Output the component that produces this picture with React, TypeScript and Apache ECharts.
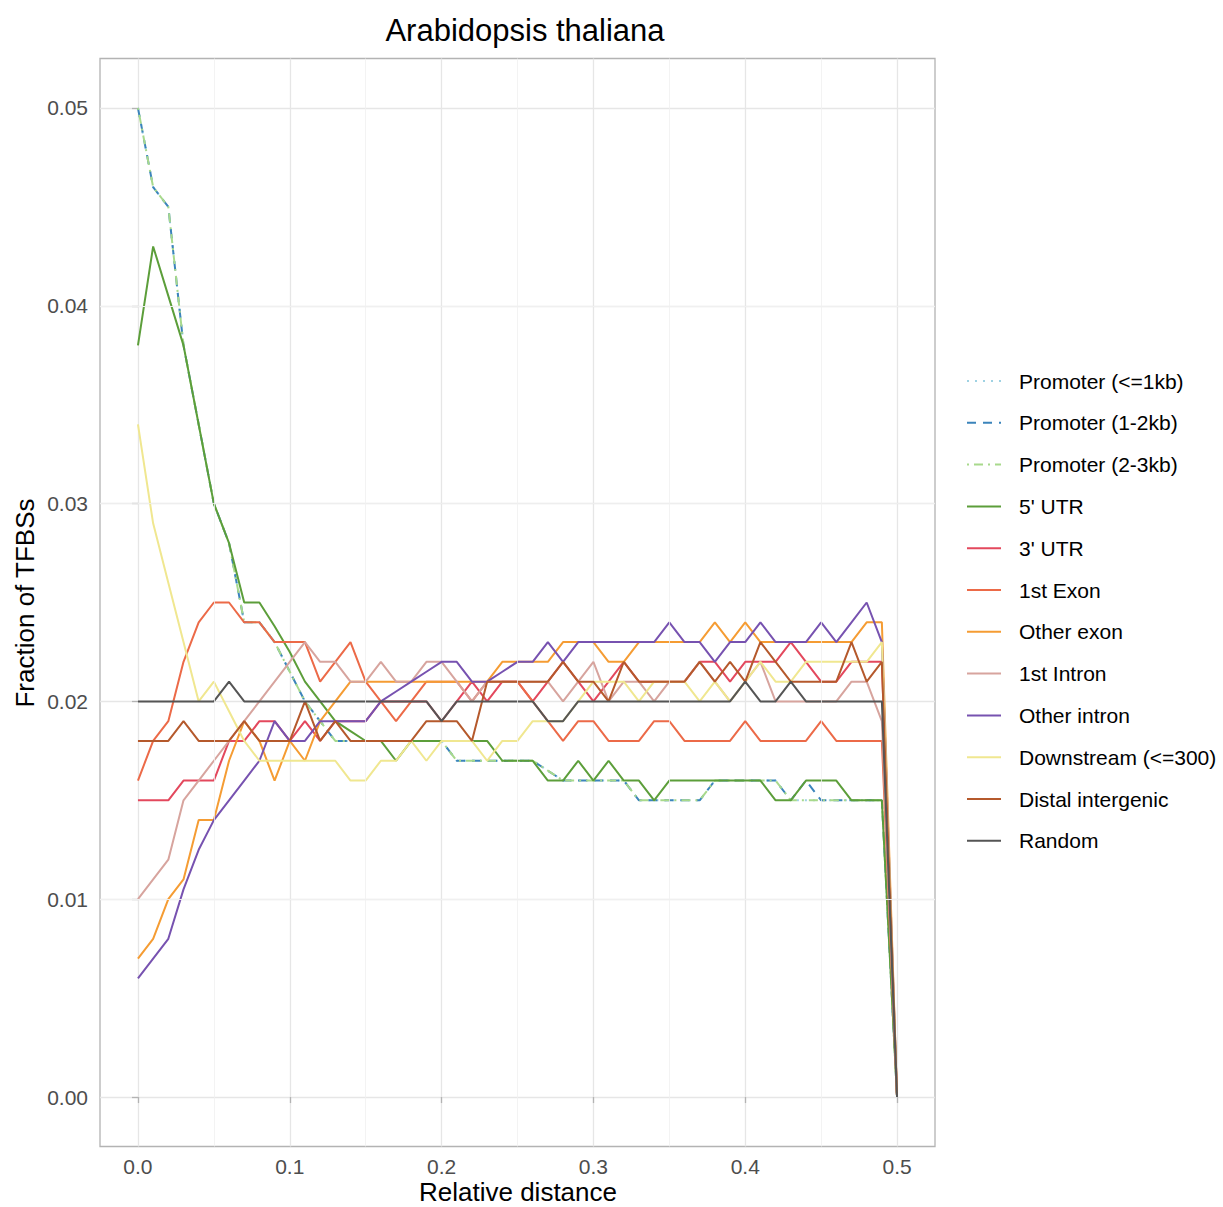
import React, { useEffect, useRef } from "react";
import * as echarts from "echarts";

// Relative distance bins (x values)
const relativeDistance = [
  0.0, 0.01, 0.02, 0.03, 0.04, 0.05, 0.06, 0.07, 0.08, 0.09,
  0.1, 0.11, 0.12, 0.13, 0.14, 0.15, 0.16, 0.17, 0.18, 0.19,
  0.2, 0.21, 0.22, 0.23, 0.24, 0.25, 0.26, 0.27, 0.28, 0.29,
  0.3, 0.31, 0.32, 0.33, 0.34, 0.35, 0.36, 0.37, 0.38, 0.39,
  0.4, 0.41, 0.42, 0.43, 0.44, 0.45, 0.46, 0.47, 0.48, 0.49,
  0.5,
];

const promoter1kb = [
  0.050, 0.046, 0.045, 0.038, 0.034, 0.030, 0.028, 0.024, 0.024, 0.023,
  0.0215, 0.020, 0.019, 0.018, 0.018, 0.018, 0.018, 0.018, 0.018, 0.018,
  0.018, 0.017, 0.017, 0.017, 0.017, 0.017, 0.017, 0.0165, 0.016, 0.016,
  0.016, 0.016, 0.016, 0.015, 0.015, 0.015, 0.015, 0.015, 0.016, 0.016,
  0.016, 0.016, 0.016, 0.015, 0.015, 0.015, 0.015, 0.015, 0.015, 0.015,
  0.0,
];

const promoter2kb = [
  0.050, 0.046, 0.045, 0.038, 0.034, 0.030, 0.028, 0.024, 0.024, 0.023,
  0.0215, 0.020, 0.019, 0.018, 0.018, 0.018, 0.018, 0.018, 0.018, 0.018,
  0.018, 0.017, 0.017, 0.017, 0.017, 0.017, 0.017, 0.0165, 0.016, 0.016,
  0.016, 0.016, 0.016, 0.015, 0.015, 0.015, 0.015, 0.015, 0.016, 0.016,
  0.016, 0.016, 0.016, 0.015, 0.016, 0.015, 0.015, 0.015, 0.015, 0.015,
  0.0,
];

const promoter3kb = [
  0.050, 0.046, 0.045, 0.038, 0.034, 0.030, 0.028, 0.024, 0.024, 0.023,
  0.0215, 0.020, 0.019, 0.018, 0.018, 0.018, 0.018, 0.018, 0.018, 0.018,
  0.018, 0.017, 0.017, 0.017, 0.017, 0.017, 0.017, 0.0165, 0.016, 0.016,
  0.016, 0.016, 0.016, 0.015, 0.015, 0.015, 0.015, 0.015, 0.016, 0.016,
  0.016, 0.016, 0.016, 0.015, 0.015, 0.015, 0.015, 0.015, 0.015, 0.015,
  0.0,
];

const utr5 = [
  0.038, 0.043, 0.0405, 0.038, 0.034, 0.030, 0.028, 0.025, 0.025, 0.0238,
  0.0225, 0.021, 0.020, 0.019, 0.0185, 0.018, 0.018, 0.017, 0.018, 0.018,
  0.018, 0.018, 0.018, 0.018, 0.017, 0.017, 0.017, 0.016, 0.016, 0.017,
  0.016, 0.017, 0.016, 0.016, 0.015, 0.016, 0.016, 0.016, 0.016, 0.016,
  0.016, 0.016, 0.015, 0.015, 0.016, 0.016, 0.016, 0.015, 0.015, 0.015,
  0.0,
];

const utr3 = [
  0.015, 0.015, 0.015, 0.016, 0.016, 0.016, 0.018, 0.018, 0.019, 0.019,
  0.018, 0.019, 0.018, 0.019, 0.019, 0.019, 0.020, 0.020, 0.020, 0.020,
  0.019, 0.020, 0.021, 0.020, 0.021, 0.021, 0.020, 0.021, 0.022, 0.021,
  0.020, 0.021, 0.022, 0.021, 0.021, 0.021, 0.021, 0.022, 0.022, 0.021,
  0.022, 0.022, 0.022, 0.023, 0.022, 0.021, 0.021, 0.022, 0.022, 0.022,
  0.0,
];

const exon1 = [
  0.016, 0.018, 0.019, 0.022, 0.024, 0.025, 0.025, 0.024, 0.024, 0.023,
  0.023, 0.023, 0.021, 0.022, 0.023, 0.021, 0.020, 0.019, 0.020, 0.021,
  0.021, 0.021, 0.020, 0.021, 0.021, 0.021, 0.020, 0.019, 0.018, 0.019,
  0.019, 0.018, 0.018, 0.018, 0.019, 0.019, 0.018, 0.018, 0.018, 0.018,
  0.019, 0.018, 0.018, 0.018, 0.018, 0.019, 0.018, 0.018, 0.018, 0.018,
  0.0,
];

const otherExon = [
  0.007, 0.008, 0.010, 0.011, 0.014, 0.014, 0.017, 0.019, 0.018, 0.016,
  0.018, 0.017, 0.019, 0.020, 0.021, 0.021, 0.021, 0.021, 0.021, 0.021,
  0.021, 0.021, 0.021, 0.021, 0.022, 0.022, 0.022, 0.022, 0.023, 0.023,
  0.023, 0.022, 0.022, 0.023, 0.023, 0.023, 0.023, 0.023, 0.024, 0.023,
  0.024, 0.023, 0.023, 0.023, 0.023, 0.023, 0.023, 0.023, 0.024, 0.024,
  0.0,
];

const intron1 = [
  0.010, 0.011, 0.012, 0.015, 0.016, 0.017, 0.018, 0.019, 0.020, 0.021,
  0.022, 0.023, 0.022, 0.022, 0.021, 0.021, 0.022, 0.021, 0.021, 0.022,
  0.022, 0.021, 0.020, 0.021, 0.021, 0.021, 0.021, 0.021, 0.020, 0.021,
  0.022, 0.020, 0.021, 0.021, 0.020, 0.021, 0.021, 0.022, 0.021, 0.020,
  0.021, 0.022, 0.020, 0.020, 0.020, 0.020, 0.020, 0.021, 0.021, 0.019,
  0.0,
];

const otherIntron = [
  0.006, 0.007, 0.008, 0.0105, 0.0125, 0.014, 0.015, 0.016, 0.017, 0.019,
  0.018, 0.018, 0.019, 0.019, 0.019, 0.019, 0.020, 0.0205, 0.021, 0.0215,
  0.022, 0.022, 0.021, 0.021, 0.0215, 0.022, 0.022, 0.023, 0.022, 0.023,
  0.023, 0.023, 0.023, 0.023, 0.023, 0.024, 0.023, 0.023, 0.022, 0.023,
  0.023, 0.024, 0.023, 0.023, 0.023, 0.024, 0.023, 0.024, 0.025, 0.023,
  0.0,
];

const downstream = [
  0.034, 0.029, 0.026, 0.023, 0.020, 0.021, 0.0195, 0.018, 0.017, 0.017,
  0.017, 0.017, 0.017, 0.017, 0.016, 0.016, 0.017, 0.017, 0.018, 0.017,
  0.018, 0.018, 0.018, 0.017, 0.018, 0.018, 0.019, 0.019, 0.019, 0.020,
  0.021, 0.021, 0.021, 0.020, 0.021, 0.021, 0.021, 0.020, 0.021, 0.020,
  0.021, 0.022, 0.021, 0.021, 0.022, 0.022, 0.022, 0.022, 0.022, 0.023,
  0.0,
];

const distal = [
  0.018, 0.018, 0.018, 0.019, 0.018, 0.018, 0.018, 0.019, 0.018, 0.018,
  0.018, 0.020, 0.018, 0.019, 0.018, 0.018, 0.018, 0.018, 0.018, 0.019,
  0.019, 0.019, 0.018, 0.021, 0.021, 0.021, 0.021, 0.021, 0.022, 0.021,
  0.021, 0.020, 0.022, 0.021, 0.021, 0.021, 0.021, 0.022, 0.021, 0.022,
  0.021, 0.023, 0.022, 0.021, 0.021, 0.021, 0.021, 0.023, 0.021, 0.022,
  0.0,
];

const randomSites = [
  0.020, 0.020, 0.020, 0.020, 0.020, 0.020, 0.021, 0.020, 0.020, 0.020,
  0.020, 0.020, 0.020, 0.020, 0.020, 0.020, 0.020, 0.020, 0.020, 0.020,
  0.019, 0.020, 0.020, 0.020, 0.020, 0.020, 0.020, 0.019, 0.019, 0.020,
  0.020, 0.020, 0.020, 0.020, 0.020, 0.020, 0.020, 0.020, 0.020, 0.020,
  0.021, 0.020, 0.020, 0.021, 0.020, 0.020, 0.020, 0.020, 0.020, 0.020,
  0.0,
];

const xTicks = [0.0, 0.1, 0.2, 0.3, 0.4, 0.5];
const xMinor = [0.05, 0.15, 0.25, 0.35, 0.45];
const yTicks = [0.0, 0.01, 0.02, 0.03, 0.04, 0.05];
const yMinor = [0.005, 0.015, 0.025, 0.035, 0.045];

const FONT = "'Liberation Sans', Arial, Helvetica, sans-serif";

type SeriesDef = {
  name: string;
  values: number[];
  color: string;
  dash: "solid" | number[];
};

const seriesDefs: SeriesDef[] = [
  { name: "Promoter (<=1kb)", values: promoter1kb, color: "#9fd2e3", dash: [2, 6] },
  { name: "Promoter (1-2kb)", values: promoter2kb, color: "#3b84bb", dash: [9, 7] },
  { name: "Promoter (2-3kb)", values: promoter3kb, color: "#a8d98c", dash: [2, 5, 9, 5] },
  { name: "5' UTR", values: utr5, color: "#5c9e3a", dash: "solid" },
  { name: "3' UTR", values: utr3, color: "#e3485d", dash: "solid" },
  { name: "1st Exon", values: exon1, color: "#ec6a48", dash: "solid" },
  { name: "Other exon", values: otherExon, color: "#f59c33", dash: "solid" },
  { name: "1st Intron", values: intron1, color: "#d7a49e", dash: "solid" },
  { name: "Other intron", values: otherIntron, color: "#7752b0", dash: "solid" },
  { name: "Downstream (<=300)", values: downstream, color: "#f0e790", dash: "solid" },
  { name: "Distal intergenic", values: distal, color: "#b5592c", dash: "solid" },
  { name: "Random", values: randomSites, color: "#555555", dash: "solid" },
];

export default function App() {
  const ref = useRef<HTMLDivElement>(null);

  useEffect(() => {
    if (!ref.current) return;
    const chart = echarts.init(ref.current, undefined, { renderer: "svg" });

    // Minor grid lines at the half-steps of both axes
    const minorLines = {
      name: "__grid_minor",
      type: "line",
      data: [],
      z: 1,
      silent: true,
      markLine: {
        silent: true,
        symbol: ["none", "none"],
        label: { show: false },
        animation: false,
        lineStyle: { color: "#f0f0f0", width: 0.8, type: "solid" },
        data: [
          ...xMinor.map((v) => ({ xAxis: v })),
          ...yMinor.map((v) => ({ yAxis: v })),
        ],
      },
    };

    const lines = seriesDefs.map((s) => ({
      name: s.name,
      type: "line",
      data: relativeDistance.map((x, i) => [x, s.values[i]]),
      symbol: "none",
      showSymbol: false,
      z: 3,
      lineStyle: { color: s.color, width: 2, type: s.dash },
      itemStyle: { color: s.color },
      emphasis: { disabled: true },
    }));

    chart.setOption({
      animation: false,
      backgroundColor: "#ffffff",
      grid: {
        left: 100,
        top: 58.5,
        width: 835,
        height: 1088,
        show: true,
        borderColor: "#b3b3b3",
        borderWidth: 1.3,
        backgroundColor: "transparent",
      },
      xAxis: {
        type: "value",
        min: -0.025,
        max: 0.525,
        axisLine: { show: false },
        axisTick: {
          show: true,
          customValues: xTicks,
          length: 6,
          lineStyle: { color: "#b3b3b3", width: 1.3 },
        },
        axisLabel: {
          customValues: xTicks,
          formatter: (v: number) => v.toFixed(1),
          color: "#4d4d4d",
          fontSize: 21,
          fontFamily: FONT,
          margin: 9,
        },
        splitLine: { show: true, lineStyle: { color: "#e6e6e6", width: 1.3 } },
      },
      yAxis: {
        type: "value",
        min: -0.0025,
        max: 0.0525,
        axisLine: { show: false },
        axisTick: {
          show: true,
          customValues: yTicks,
          length: 6,
          lineStyle: { color: "#b3b3b3", width: 1.3 },
        },
        axisLabel: {
          customValues: yTicks,
          formatter: (v: number) => v.toFixed(2),
          color: "#4d4d4d",
          fontSize: 21,
          fontFamily: FONT,
          margin: 12,
        },
        splitLine: { show: true, lineStyle: { color: "#e6e6e6", width: 1.3 } },
      },
      legend: {
        orient: "vertical",
        left: 966,
        top: 370,
        padding: 0,
        itemWidth: 34,
        itemHeight: 22,
        itemGap: 19.8,
        data: seriesDefs.map((s) => s.name),
        selectedMode: false,
        itemStyle: { opacity: 0 },
        textStyle: {
          color: "#000000",
          fontSize: 21,
          fontFamily: FONT,
          lineHeight: 22,
          padding: [0, 0, 0, 13],
        },
      },
      graphic: [
        {
          type: "text",
          x: 525,
          y: 30,
          style: {
            text: "Arabidopsis thaliana",
            font: `31px ${FONT}`,
            fill: "#000000",
            align: "center",
            verticalAlign: "middle",
            textAlign: "center",
            textVerticalAlign: "middle",
          },
        },
        {
          type: "text",
          x: 518,
          y: 1192,
          style: {
            text: "Relative distance",
            font: `26px ${FONT}`,
            fill: "#000000",
            align: "center",
            verticalAlign: "middle",
            textAlign: "center",
            textVerticalAlign: "middle",
          },
        },
        {
          type: "text",
          x: 25,
          y: 603,
          rotation: Math.PI / 2,
          style: {
            text: "Fraction of TFBSs",
            font: `26px ${FONT}`,
            fill: "#000000",
            align: "center",
            verticalAlign: "middle",
            textAlign: "center",
            textVerticalAlign: "middle",
          },
        },
      ],
      series: [minorLines, ...lines],
    });

    return () => chart.dispose();
  }, []);

  return (
    <div
      ref={ref}
      style={{ position: "fixed", left: 0, top: 0, width: 1223, height: 1207 }}
    />
  );
}
